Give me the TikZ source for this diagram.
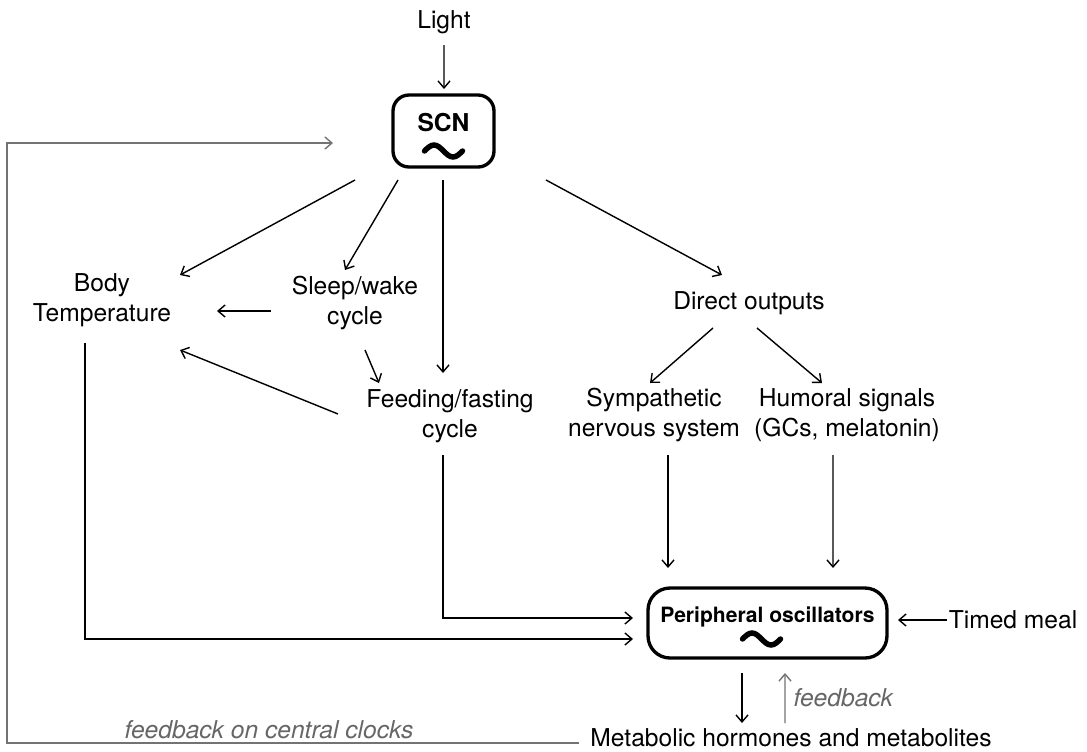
\documentclass[tikz,border=0pt]{standalone}
\usepackage{fontspec}
\setmainfont{TeX Gyre Heros}
\usepackage{tikz}
\usetikzlibrary{arrows.meta}

\begin{document}
\begin{tikzpicture}[
  x=0.02cm,y=-0.02cm,
  font=\fontsize{14}{17}\selectfont,
  lbl/.style={align=center,inner sep=0pt},
  clock/.style={draw,line width=1.9pt,inner sep=0pt,
                font=\fontsize{14}{17}\selectfont\bfseries},
  arr/.style={->,line width=0.8pt},
  fb/.style={arr,black!55},
  note/.style={font=\fontsize{14}{17}\selectfont\itshape,text=black!60,inner sep=0pt},
  wave/.style={line width=3.1pt,line cap=round},
  >={Straight Barb[length=1.4mm,width=2.4mm]}
]
\useasboundingbox (0,0) rectangle (1087,751);
% ---- the two clocks ----
\node[clock,rounded corners=0.32cm,minimum width=2.02cm,minimum height=1.44cm,
      text depth=0.36cm] (scn) at (443.5,131) {SCN};
\draw[wave] ([shift={(-19,20)}]scn.center) sin ++(9.5,-6) cos ++(9.5,6) sin ++(9.5,6) cos ++(9.5,-6);
\node[clock,rounded corners=0.44cm,minimum width=4.78cm,minimum height=1.4cm,
      text depth=0.32cm,font=\fontsize{12}{14}\selectfont\bfseries] (periph) at (767.5,623)
      {Peripheral oscillators};
\draw[wave] ([shift={(-25,16)}]periph.center) sin ++(9.5,-6) cos ++(9.5,6) sin ++(9.5,6) cos ++(9.5,-6);

% ---- inputs and outputs ----
\node[lbl] (light)   at (444,22)  {Light};
\node[lbl] (body)    at (102,300) {Body\\Temperature};
\node[lbl] (sleep)   at (355,303) {Sleep/wake\\cycle};
\node[lbl] (feed)    at (450,416) {Feeding/fasting\\cycle};
\node[lbl] (direct)  at (749,303) {Direct outputs};
\node[lbl] (symp)    at (654,415) {Sympathetic\\nervous system};
\node[lbl] (humoral) at (847,415) {Humoral signals\\(GCs, melatonin)};
\node[lbl] (meal)    at (1013,620) {Timed meal};
\node[lbl] (metab)   at (791,738) {Metabolic hormones and metabolites};

% ---- central pathways ----
\draw[arr] ([shift={(0,23)}]light.center) -- ([shift={(0.5,-42)}]scn.center);
\draw[arr] ([shift={(-88.5,49)}]scn.center) -- ([shift={(78,-25)}]body.center);
\draw[arr] ([shift={(-45.5,49)}]scn.center) -- ([shift={(-10,-33)}]sleep.center);
\draw[arr] ([shift={(-0.5,49)}]scn.center) -- ([shift={(-7,-43)}]feed.center);
\draw[arr] ([shift={(102.5,49)}]scn.center) -- ([shift={(-27,-28)}]direct.center);
\draw[arr] ([shift={(-84,8)}]sleep.center) -- ([shift={(115,11)}]body.center);
\draw[arr] ([shift={(10,47)}]sleep.center) -- ([shift={(-71,-33)}]feed.center);
\draw[arr] ([shift={(-112,-2)}]feed.center) -- ([shift={(78,50)}]body.center);
\draw[arr] ([shift={(-36,25)}]direct.center) -- ([shift={(-4,-32)}]symp.center);
\draw[arr] ([shift={(8,25)}]direct.center) -- ([shift={(-25,-32)}]humoral.center);

% ---- into the peripheral clocks ----
\draw[arr] ([shift={(14,40)}]symp.center) -- ([shift={(-99.5,-55)}]periph.center);
\draw[arr] ([shift={(-14,40)}]humoral.center) -- ([shift={(65.5,-55)}]periph.center);
\draw[arr] ([shift={(-7,39)}]feed.center) |- ([shift={(-134.5,-5)}]periph.center);
\draw[arr] ([shift={(-17,43)}]body.center) |- ([shift={(-134.5,16)}]periph.center);
\draw[arr] ([shift={(-66,0)}]meal.center) -- ([shift={(130.5,-3)}]periph.center);
\draw[arr] ([shift={(-25.5,50)}]periph.center) -- ([shift={(-49,-15)}]metab.center);

% ---- feedback loops ----
\draw[fb] ([shift={(-6,-15)}]metab.center) -- ([shift={(17.5,50)}]periph.center)
  node[note,anchor=west,pos=0.5,xshift=0.16cm] (fblocal) {feedback};
\draw[fb] ([shift={(-212,5)}]metab.center) -- ++(-572,0) |- ([shift={(-110.5,12)}]scn.center);
\node[note] (fbcentral) at (269,730) {feedback on central clocks};
\end{tikzpicture}
\end{document}
